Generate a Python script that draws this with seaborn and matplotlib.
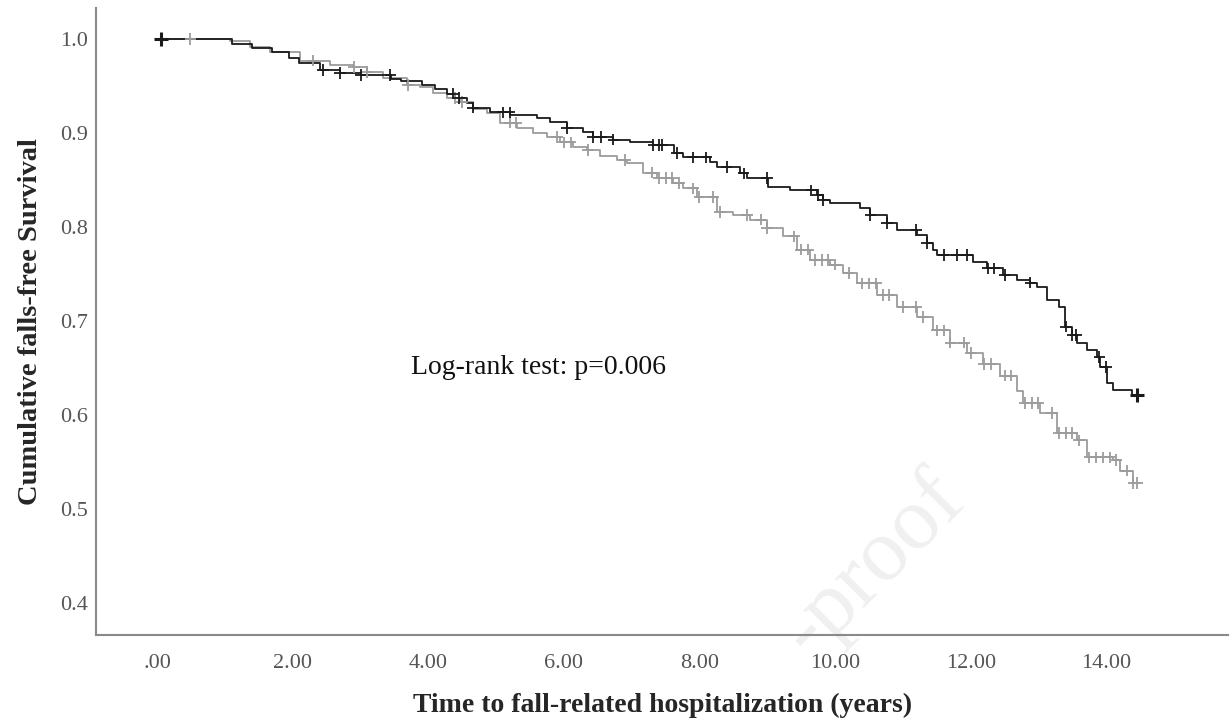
import numpy as np
import pandas as pd
import seaborn as sns
import matplotlib.pyplot as plt

# Kaplan-Meier steps (time in years, survival after the drop)
black_time = [0.0, 1.10, 1.40, 1.70, 1.95, 2.10, 2.40, 2.70, 3.00, 3.45, 3.60, 3.90, 4.10, 4.28,
              4.40, 4.57, 4.66, 4.91, 5.21, 5.60, 5.80, 6.05, 6.28, 6.43, 6.73, 6.98, 7.32, 7.62,
              7.76, 8.16, 8.26, 8.60, 8.70, 9.01, 9.34, 9.73, 9.82, 9.93, 10.37, 10.52, 10.77,
              10.91, 11.21, 11.36, 11.45, 11.50, 12.04, 12.24, 12.48, 12.68, 12.88, 12.98, 13.13,
              13.30, 13.39, 13.50, 13.57, 13.72, 13.86, 13.91, 14.01, 14.10, 14.38, 14.45]
black_surv = [1.000, 0.995, 0.990, 0.986, 0.980, 0.974, 0.967, 0.964, 0.962, 0.958, 0.955, 0.951,
              0.947, 0.942, 0.937, 0.932, 0.927, 0.922, 0.919, 0.916, 0.912, 0.905, 0.901, 0.896,
              0.893, 0.890, 0.887, 0.879, 0.874, 0.869, 0.864, 0.857, 0.852, 0.843, 0.839, 0.834,
              0.829, 0.826, 0.820, 0.813, 0.804, 0.797, 0.791, 0.783, 0.776, 0.770, 0.763, 0.756,
              0.749, 0.744, 0.741, 0.736, 0.722, 0.715, 0.694, 0.685, 0.677, 0.669, 0.662, 0.651,
              0.634, 0.627, 0.621, 0.621]
black_censor = [2.45, 2.70, 3.00, 3.44, 4.37, 4.45, 4.66, 5.10, 5.20, 6.05, 6.43, 6.55,
                6.73, 7.32, 7.40, 7.45, 7.67, 7.90, 8.10, 8.40, 8.65, 9.00, 9.65, 9.75, 9.82,
                10.52, 10.77, 11.20, 11.36, 11.60, 11.80, 11.95, 12.25, 12.35, 12.50, 12.88,
                13.40, 13.50, 13.55, 13.90, 14.00]
black_censor_bold = [0.05, 14.45]

gray_time = [0.0, 1.08, 1.37, 1.67, 2.11, 2.55, 2.89, 3.10, 3.33, 3.69, 3.88, 4.07, 4.28, 4.47,
             4.66, 4.87, 5.06, 5.31, 5.55, 5.75, 5.94, 6.14, 6.34, 6.53, 6.78, 6.93, 7.17, 7.37,
             7.61, 7.76, 7.96, 8.26, 8.50, 8.75, 9.00, 9.23, 9.44, 9.63, 9.93, 10.12, 10.32,
             10.62, 10.91, 11.21, 11.45, 11.70, 11.95, 12.18, 12.43, 12.68, 12.77, 13.02, 13.27,
             13.57, 13.72, 14.10, 14.20, 14.40, 14.45]
gray_surv = [1.000, 0.998, 0.991, 0.986, 0.977, 0.972, 0.970, 0.965, 0.959, 0.951, 0.949, 0.943,
             0.937, 0.933, 0.926, 0.921, 0.911, 0.905, 0.900, 0.896, 0.890, 0.885, 0.882, 0.876,
             0.871, 0.868, 0.858, 0.852, 0.847, 0.841, 0.832, 0.816, 0.813, 0.808, 0.799, 0.790,
             0.776, 0.765, 0.760, 0.751, 0.740, 0.728, 0.715, 0.704, 0.690, 0.677, 0.666, 0.654,
             0.642, 0.626, 0.613, 0.602, 0.581, 0.573, 0.555, 0.552, 0.541, 0.528, 0.528]
gray_censor = [0.49, 2.30, 2.90, 3.10, 3.70, 4.40, 4.50, 5.20, 5.30, 5.90, 6.00, 6.10, 6.35,
               6.90, 7.30, 7.40, 7.50, 7.60, 7.70, 7.90, 8.00, 8.20, 8.30, 8.70, 8.90, 9.00,
               9.40, 9.50, 9.60, 9.70, 9.80, 9.90, 10.00, 10.20, 10.40, 10.50, 10.60, 10.70,
               10.80, 11.00, 11.20, 11.30, 11.50, 11.60, 11.70, 11.90, 12.00, 12.20, 12.30,
               12.50, 12.60, 12.80, 12.90, 13.00, 13.20, 13.30, 13.40, 13.50, 13.60, 13.75,
               13.85, 13.95, 14.05, 14.15, 14.30, 14.40, 14.45]

x_ticks = [0, 2, 4, 6, 8, 10, 12, 14]
x_ticklabels = [".00", "2.00", "4.00", "6.00", "8.00", "10.00", "12.00", "14.00"]
y_ticks = [0.4, 0.5, 0.6, 0.7, 0.8, 0.9, 1.0]
y_ticklabels = ["0.4", "0.5", "0.6", "0.7", "0.8", "0.9", "1.0"]

colors = {"black": "#1a1a1a", "gray": "#9c9c9c"}


def censor_frame(times, surv, cens, group):
    times = np.asarray(times)
    surv = np.asarray(surv)
    idx = np.searchsorted(times, cens, side="right") - 1
    return pd.DataFrame({"time": cens, "surv": surv[idx], "group": group})


curves = pd.concat([
    pd.DataFrame({"time": black_time, "surv": black_surv, "group": "black"}),
    pd.DataFrame({"time": gray_time, "surv": gray_surv, "group": "gray"}),
])
marks = pd.concat([
    censor_frame(gray_time, gray_surv, gray_censor, "gray"),
    censor_frame(black_time, black_surv, black_censor, "black"),
])
bold_marks = censor_frame(black_time, black_surv, black_censor_bold, "black")

sns.set_theme(style="white")
plt.rcParams["font.family"] = ["Liberation Serif", "DejaVu Serif"]

fig = plt.figure(figsize=(12.32, 7.27), dpi=100)
ax = fig.add_axes([0.078, 0.1265, 0.919, 0.8625])
ax.patch.set_alpha(0)

# faint journal watermark behind everything
fig.text(0.785, 0.31, "-proof", rotation=45, rotation_mode="anchor",
         ha="right", va="baseline", fontsize=64, color="#f0f0f0", zorder=-5)

sns.lineplot(data=curves[curves.group == "gray"], x="time", y="surv", color=colors["gray"],
             drawstyle="steps-post", linewidth=1.3, estimator=None, legend=False, ax=ax)
sns.lineplot(data=curves[curves.group == "black"], x="time", y="surv", color=colors["black"],
             drawstyle="steps-post", linewidth=1.3, estimator=None, legend=False, ax=ax)
sns.scatterplot(data=marks, x="time", y="surv", hue="group", palette=colors, marker="+",
                s=70, linewidth=1.3, legend=False, ax=ax, zorder=3)
sns.scatterplot(data=bold_marks, x="time", y="surv", color=colors["black"], marker="+",
                s=110, linewidth=2.2, legend=False, ax=ax, zorder=4)

ax.text(3.75, 0.651, "Log-rank test: p=0.006", fontsize=20, color="#111111", va="center")

ax.set_xlim(-0.9, 15.8)
ax.set_ylim(0.366, 1.033)
ax.set_xticks(x_ticks)
ax.set_xticklabels(x_ticklabels)
ax.set_yticks(y_ticks)
ax.set_yticklabels(y_ticklabels)
ax.tick_params(axis="both", length=0, labelsize=16, labelcolor="#555555")
ax.tick_params(axis="x", pad=14)
ax.tick_params(axis="y", pad=6)

ax.set_xlabel("Time to fall-related hospitalization (years)", fontsize=20,
              fontweight="bold", labelpad=14)
ax.set_ylabel("Cumulative falls-free Survival", fontsize=20.5, fontweight="bold", labelpad=12)

sns.despine(ax=ax)
for side in ["left", "bottom"]:
    ax.spines[side].set_color("#8a8a8a")
    ax.spines[side].set_linewidth(1.5)

fig.savefig("out.png", dpi=100)
